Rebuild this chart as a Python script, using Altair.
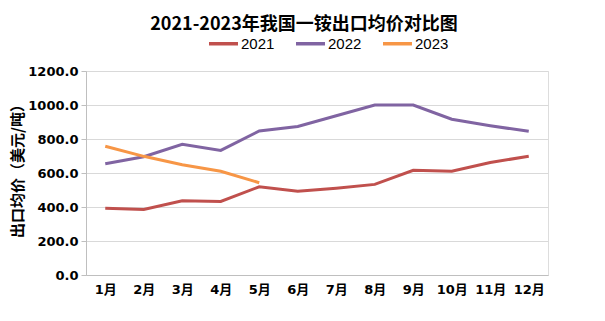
import altair as alt
import pandas as pd

months = ["1月", "2月", "3月", "4月", "5月", "6月", "7月", "8月", "9月", "10月", "11月", "12月"]
v2021 = [392, 386, 437, 433, 519, 492, 510, 533, 616, 610, 662, 698]
v2022 = [655, 696, 769, 733, 847, 874, 937, 1000, 1000, 916, 878, 845]
v2023 = [757, 698, 649, 610, 543]
years = ["2021", "2022", "2023"]
colors = ["#C0504D", "#8064A2", "#F79646"]

rows = []
for yr, vals in zip(years, [v2021, v2022, v2023]):
    for m, v in zip(months, vals):
        rows.append({"month": m, "value": v, "year": yr})
df = pd.DataFrame(rows)

num_font = "DejaVu Sans, Noto Sans CJK SC"

chart = alt.Chart(df).mark_line(strokeWidth=3).encode(
    x=alt.X("month:O", sort=months,
            scale=alt.Scale(type="point", padding=0.5),
            axis=alt.Axis(title=None, labelAngle=0, ticks=False, grid=False,
                          domainColor="#BFBFBF", labelFont=num_font,
                          labelFontSize=13, labelFontWeight="bold",
                          labelColor="#000000", labelPadding=8)),
    y=alt.Y("value:Q", scale=alt.Scale(domain=[0, 1200], nice=False),
            axis=alt.Axis(values=[0, 200, 400, 600, 800, 1000, 1200], format=".1f",
                          title="出口均价（美元/吨）", titleFont="Noto Sans CJK SC",
                          titleFontSize=15, titleFontWeight="bold", titleColor="#000000",
                          titleAngle=-90, titleX=-69, titleY=96, titleAlign="center",
                          titleBaseline="middle",
                          labelFont=num_font, labelFontSize=13, labelFontWeight="bold",
                          labelColor="#000000", labelPadding=3,
                          gridColor="#D9D9D9", domainColor="#BFBFBF",
                          tickColor="#BFBFBF", tickSize=5)),
    color=alt.Color("year:N", scale=alt.Scale(domain=years, range=colors),
                    legend=alt.Legend(title=None, orient="none", direction="horizontal",
                                      legendX=121, legendY=-44,
                                      symbolType="stroke", symbolSize=841,
                                      symbolStrokeWidth=3.5, labelFontSize=15,
                                      labelFont="Liberation Sans Narrow, Liberation Sans",
                                      labelColor="#000000", columnPadding=14,
                                      labelOffset=1)),
).properties(
    width=462, height=204,
    title=alt.TitleParams("2021-2023年我国一铵出口均价对比图", font="Noto Sans CJK SC",
                          fontSize=18, fontWeight="bold", color="#000000",
                          anchor="middle", dx=-13, dy=11),
    autosize=alt.AutoSizeParams(type="none"),
    padding={"left": 86, "top": 71, "right": 57, "bottom": 46},
).configure_view(stroke=None).configure(background="white")

chart.save("out.html", embed_options={"renderer": "svg", "actions": False})
